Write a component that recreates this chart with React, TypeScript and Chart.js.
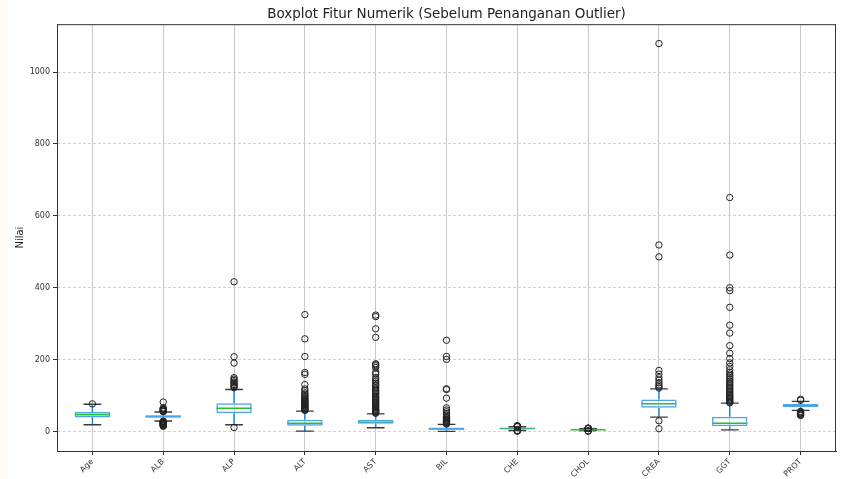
import React, { useEffect, useRef } from "react";
import { Chart, registerables } from "chart.js";

Chart.register(...registerables);

const categories = ["Age", "ALB", "ALP", "ALT", "AST", "BIL", "CHE", "CHOL", "CREA", "GGT", "PROT"];
const q1 = [39, 38.8, 51, 16, 21.6, 5.3, 6.9, 4.6, 66, 15, 67.5];
const median = [47, 42, 65, 23.5, 25.9, 7.3, 8.3, 5.3, 77.5, 23.5, 72];
const q3 = [54.5, 45.2, 79, 33, 32.9, 11.2, 9.6, 6.1, 89, 41, 76.5];
const whiskerLow = [19, 29.5, 19, 1, 10.6, 0.8, 3, 2.5, 40, 4.5, 59];
const whiskerHigh = [76, 54.5, 117, 57, 49.5, 19.8, 13.5, 8.2, 119, 79, 84];
const outliers: number[][] = [
  [77],
  [82.2, 66, 64, 62, 61, 59.5, 58, 57, 56, 55.5, 29, 28, 27, 26.5, 25.5, 24.5, 23.5, 22.5, 21, 20, 19, 17.5, 16, 14.9],
  [416.6, 208.2, 190.7, 150, 146, 142, 138, 135, 131, 128, 125, 122, 11.3],
  [325.3, 258, 208.8, 164.3, 159, 130.6, 118.6, 114, 108, 104, 100, 97, 94, 91, 88, 86, 84, 82, 80, 78, 76, 74, 72, 70, 68, 66, 64, 62, 60, 59],
  [324, 319.8, 285.8, 262, 188.7, 186, 183, 178, 165, 160, 150, 145, 140, 135, 130, 127, 122, 118, 114, 110, 106, 102, 98, 95, 92, 89, 86, 83, 80, 77, 74, 71, 68, 65, 62, 60, 58, 56, 54, 52, 51],
  [254, 209, 201, 119, 117, 93, 66, 60, 55, 50, 46, 42, 39, 36, 34, 32, 30, 28, 26, 24, 22, 21],
  [16.4, 15.4, 14.8, 14.3, 13.8, 2.8, 2.4, 1.8, 1.42],
  [9.67, 9.4, 8.9, 8.6, 8.4, 2.2, 1.9, 1.43],
  [1079.1, 519, 485.9, 170, 160, 150, 143, 136, 130, 125, 121, 30, 8],
  [650.9, 491, 400, 392, 345.6, 296, 274, 239, 218, 203, 191, 181, 172, 165, 160, 155, 150, 145, 140, 136, 132, 128, 124, 120, 116, 112, 108, 104, 100, 97, 94, 91, 88, 85, 82, 80],
  [90, 87, 56, 54, 52, 50, 48, 46, 44.8],
];
const yTicks = [0, 200, 400, 600, 800, 1000];

const BOX = "#4ea6e8";
const WHISKER = "#1f86dc";
const MEDIAN = "#28c028";
const CAP = "#3a3a3a";
const FONT = "'DejaVu Sans', sans-serif";

const boxParts = {
  id: "boxParts",
  beforeDatasetsDraw(chart: any) {
    const ctx = chart.ctx;
    const x = chart.scales.x;
    const y = chart.scales.y;
    const meta = chart.getDatasetMeta(0);
    ctx.save();
    categories.forEach((c, i) => {
      const el = meta.data[i];
      const cx = x.getPixelForValue(i);
      const w = el ? el.width : 36;
      const capHalf = w / 4;
      const yq1 = y.getPixelForValue(q1[i]);
      const yq3 = y.getPixelForValue(q3[i]);
      const ylo = y.getPixelForValue(whiskerLow[i]);
      const yhi = y.getPixelForValue(whiskerHigh[i]);
      const ym = y.getPixelForValue(median[i]);
      ctx.strokeStyle = WHISKER;
      ctx.lineWidth = 1.5;
      ctx.beginPath();
      ctx.moveTo(cx, yq1);
      ctx.lineTo(cx, ylo);
      ctx.moveTo(cx, yq3);
      ctx.lineTo(cx, yhi);
      ctx.stroke();
      ctx.strokeStyle = CAP;
      ctx.lineWidth = 1.3;
      ctx.beginPath();
      ctx.moveTo(cx - capHalf, ylo);
      ctx.lineTo(cx + capHalf, ylo);
      ctx.moveTo(cx - capHalf, yhi);
      ctx.lineTo(cx + capHalf, yhi);
      ctx.stroke();
      ctx.strokeStyle = MEDIAN;
      ctx.lineWidth = 1.5;
      ctx.beginPath();
      ctx.moveTo(cx - w / 2, ym);
      ctx.lineTo(cx + w / 2, ym);
      ctx.stroke();
    });
    ctx.restore();
  },
};

const frame = {
  id: "frame",
  afterDraw(chart: any) {
    const { ctx, chartArea } = chart;
    ctx.save();
    ctx.setLineDash([]);
    ctx.strokeStyle = "#333";
    ctx.lineWidth = 1;
    ctx.beginPath();
    ctx.moveTo(chartArea.left, chartArea.top + 0.5);
    ctx.lineTo(chartArea.right, chartArea.top + 0.5);
    ctx.moveTo(chartArea.right - 0.5, chartArea.top);
    ctx.lineTo(chartArea.right - 0.5, chartArea.bottom);
    ctx.moveTo(chartArea.left + 0.5, chartArea.top);
    ctx.lineTo(chartArea.left + 0.5, chartArea.bottom);
    ctx.stroke();
    ctx.restore();
  },
};

export default function App() {
  const ref = useRef<HTMLCanvasElement | null>(null);
  useEffect(() => {
    if (!ref.current) return;
    const flierData: { x: string; y: number }[] = [];
    outliers.forEach((list, i) => list.forEach((v) => flierData.push({ x: categories[i], y: v })));
    const chart = new Chart(ref.current, {
      type: "bar",
      data: {
        labels: categories,
        datasets: [
          {
            type: "bar",
            data: q1.map((v, i) => [v, q3[i]]) as any,
            backgroundColor: "rgba(255,255,255,0)",
            borderColor: BOX,
            borderWidth: 1.5,
            borderSkipped: false,
            barPercentage: 0.5,
            categoryPercentage: 1,
            grouped: false,
            order: 1,
          } as any,
          {
            type: "line",
            data: flierData as any,
            showLine: false,
            pointStyle: "circle",
            pointRadius: 3.2,
            pointBorderWidth: 1,
            pointBorderColor: "#222",
            pointBackgroundColor: "rgba(255,255,255,0)",
            order: 0,
          } as any,
        ],
      },
      options: {
        animation: false,
        responsive: false,
        maintainAspectRatio: false,
        layout: { padding: { left: 0, right: 1, top: 0, bottom: 0 } },
        plugins: {
          legend: { display: false },
          tooltip: { enabled: false },
          title: {
            display: true,
            fullSize: false,
            text: "Boxplot Fitur Numerik (Sebelum Penanganan Outlier)",
            color: "#222",
            font: { family: FONT, size: 13.5, weight: "normal" },
            padding: { top: 6, bottom: 2 },
          },
        },
        scales: {
          x: {
            type: "category",
            offset: true,
            grid: {
              display: true,
              offset: false,
              color: "#c8c8c8",
              lineWidth: 1,
              drawTicks: true,
              tickLength: 4,
              tickColor: "#333",
            },
            border: { display: true, color: "#333", width: 1 },
            ticks: {
              minRotation: 45,
              maxRotation: 45,
              autoSkip: false,
              padding: 2,
              color: "#333",
              font: { family: FONT, size: 8 },
            },
            afterFit: (s: any) => {
              s.height = 28;
            },
          },
          y: {
            type: "linear",
            min: -54,
            max: 1133,
            afterBuildTicks: (s: any) => {
              s.ticks = yTicks.map((v) => ({ value: v }));
            },
            ticks: {
              includeBounds: false,
              padding: 3,
              color: "#333",
              font: { family: FONT, size: 8 },
              callback: (v: any) => String(v),
            },
            grid: {
              color: "#d2d2d2",
              lineWidth: 1,
              tickBorderDash: [],
              drawTicks: true,
              tickLength: 4,
              tickColor: "#333",
            } as any,
            border: { display: true, color: "#333", width: 1, dash: [3, 2] } as any,
            title: {
              display: true,
              text: "Nilai",
              color: "#222",
              font: { family: FONT, size: 10 },
              padding: { top: 6, bottom: 0 },
            },
            afterFit: (s: any) => {
              s.width = 49;
            },
          },
        },
      } as any,
      plugins: [boxParts, frame],
    });
    return () => chart.destroy();
  }, []);
  return (
    <div style={{ position: "fixed", left: 0, top: 0, width: 841, height: 479, background: "#fffdf2" }}>
      <div style={{ position: "absolute", left: 8, top: 0, width: 833, height: 479, background: "#fff" }}>
        <canvas ref={ref} width={833} height={479} style={{ display: "block", width: 833, height: 479 }} />
      </div>
    </div>
  );
}
